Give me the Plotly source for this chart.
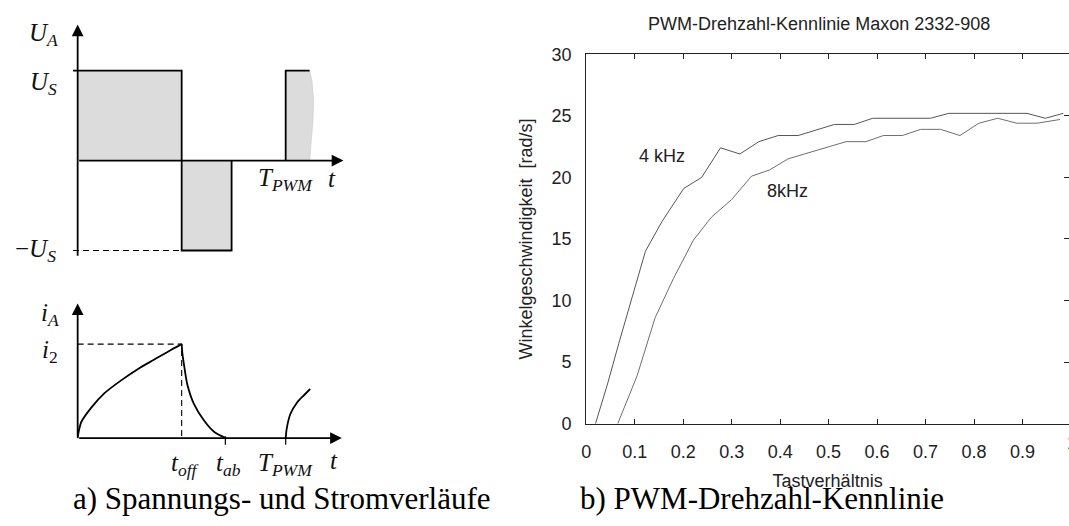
import plotly.graph_objects as go

# ---------------------------------------------------------------------------
# b) PWM speed characteristic: duty cycle -> angular velocity [rad/s]
# ---------------------------------------------------------------------------
duty_4khz = [0.019, 0.043, 0.067, 0.094, 0.122, 0.156, 0.201, 0.238, 0.277, 0.317,
             0.356, 0.396, 0.437, 0.512, 0.553, 0.591, 0.710, 0.748, 0.909, 0.947, 0.984]
speed_4khz = [0.0, 3.1, 6.5, 10.2, 14.0, 16.4, 19.1, 20.0, 22.4, 21.9,
              22.9, 23.4, 23.4, 24.3, 24.3, 24.8, 24.8, 25.2, 25.2, 24.8, 25.2]

duty_8khz = [0.065, 0.105, 0.142, 0.180, 0.221, 0.259, 0.300, 0.341, 0.378, 0.416,
             0.450, 0.536, 0.577, 0.613, 0.652, 0.690, 0.731, 0.771, 0.810, 0.849,
             0.888, 0.930, 0.977]
speed_8khz = [0.0, 3.9, 8.6, 11.8, 14.9, 16.8, 18.2, 20.1, 20.6, 21.5,
              21.9, 22.9, 22.9, 23.4, 23.4, 23.9, 23.9, 23.4, 24.4, 24.8,
              24.4, 24.4, 24.7]

x_ticks = [0, 0.1, 0.2, 0.3, 0.4, 0.5, 0.6, 0.7, 0.8, 0.9]
x_tick_text = ["0", "0.1", "0.2", "0.3", "0.4", "0.5", "0.6", "0.7", "0.8", "0.9"]
y_ticks = [0, 5, 10, 15, 20, 25, 30]

# ---------------------------------------------------------------------------
# a) schematic voltage / current waveforms (normalised units)
# ---------------------------------------------------------------------------
T_OFF = 1.0          # switch-off instant
T_AB = 1.42          # current has decayed to zero
T_NEG_END = 1.48     # end of the negative voltage pulse
T_PWM = 2.0          # PWM period
T_PULSE3_END = 2.23  # visible part of the next pulse
U_S = 1.0
I_2 = 1.0

# wavy right border of the next (cut-off) voltage pulse
pulse3_edge_t = [2.230, 2.252, 2.268, 2.261, 2.242, 2.230, 2.230]
pulse3_edge_u = [1.0, 0.89, 0.676, 0.426, 0.176, 0.051, 0.0]

# armature current: rise while switched on, decay after t_off, next rise at T_PWM
rise_t = [0.0, 0.01, 0.035, 0.131, 0.258, 0.418, 0.577, 0.737, 0.896, 1.0]
rise_i = [0.0, 0.07, 0.171, 0.324, 0.478, 0.614, 0.733, 0.836, 0.938, 1.0]
fall_t = [1.0, 1.006, 1.024, 1.056, 1.12, 1.215, 1.311, 1.423]
fall_i = [1.0, 0.91, 0.768, 0.563, 0.358, 0.187, 0.068, 0.0]
next_t = [2.0, 2.01, 2.045, 2.108, 2.17, 2.236]
next_i = [0.0, 0.1, 0.256, 0.376, 0.45, 0.522]

W, H = 1069, 526
GRAY_FILL = "#dcdcdc"
SERIF = "Liberation Serif, Times New Roman, serif"
SANS = "Liberation Sans, Arial, sans-serif"

fig = go.Figure()

# ---------------- voltage diagram (x2 / y2) ----------------
va = dict(xaxis="x2", yaxis="y2", hoverinfo="skip", showlegend=False)
fig.add_trace(go.Scatter(x=[0, 0, T_OFF, T_OFF, 0], y=[0, U_S, U_S, 0, 0], fill="toself",
                         fillcolor=GRAY_FILL, line=dict(width=0), mode="lines", **va))
fig.add_trace(go.Scatter(x=[T_OFF, T_OFF, T_NEG_END, T_NEG_END, T_OFF], y=[0, -U_S, -U_S, 0, 0],
                         fill="toself", fillcolor=GRAY_FILL, line=dict(width=0), mode="lines", **va))
fig.add_trace(go.Scatter(x=[T_PWM, T_PWM] + pulse3_edge_t + [T_PWM],
                         y=[0, U_S] + pulse3_edge_u + [0], fill="toself", fillcolor=GRAY_FILL,
                         line=dict(width=0.8, color="#cfcfcf"), mode="lines", **va))
fig.add_trace(go.Scatter(x=[-0.045, T_OFF, T_OFF, T_NEG_END, T_NEG_END],
                         y=[U_S, U_S, -U_S, -U_S, 0], mode="lines",
                         line=dict(color="black", width=1.8), **va))
fig.add_trace(go.Scatter(x=[T_PWM, T_PWM, T_PULSE3_END], y=[0, U_S, U_S], mode="lines",
                         line=dict(color="black", width=1.8), **va))
fig.add_trace(go.Scatter(x=[-0.045, T_OFF], y=[-U_S, -U_S], mode="lines",
                         line=dict(color="black", width=1.1, dash="6px,4px"), **va))

# ---------------- current diagram (x3 / y3) ----------------
ia = dict(xaxis="x3", yaxis="y3", hoverinfo="skip", showlegend=False)
fig.add_trace(go.Scatter(x=[0, T_OFF, T_OFF], y=[I_2, I_2, 0], mode="lines",
                         line=dict(color="black", width=1.1, dash="6px,4px"), **ia))
for tt, ii in ((rise_t, rise_i), (fall_t, fall_i), (next_t, next_i)):
    fig.add_trace(go.Scatter(x=tt, y=ii, mode="lines", line_shape="spline",
                             line=dict(color="black", width=1.8, smoothing=0.8), **ia))
for tm in (T_AB, T_PWM):
    fig.add_trace(go.Scatter(x=[tm, tm], y=[0.02, -0.07], mode="lines",
                             line=dict(color="black", width=1.2), **ia))

# ---------------- PWM speed characteristic (x / y) ----------------
fig.add_trace(go.Scatter(x=duty_4khz, y=speed_4khz, mode="lines", name="4 kHz",
                         line=dict(color="#555555", width=1), showlegend=False, hoverinfo="skip"))
fig.add_trace(go.Scatter(x=duty_8khz, y=speed_8khz, mode="lines", name="8kHz",
                         line=dict(color="#6e6e6e", width=1), showlegend=False, hoverinfo="skip"))
# carrier trace for the right-hand tick axis
fig.add_trace(go.Scatter(x=[None], y=[None], yaxis="y4", mode="lines",
                         showlegend=False, hoverinfo="skip"))

# ---------------- annotations ----------------
ann = []


def arrow(x, y, ax, ay, xr, yr):
    ann.append(dict(x=x, y=y, ax=ax, ay=ay, xref=xr, yref=yr, axref=xr, ayref=yr, text="",
                    showarrow=True, arrowhead=2, arrowsize=1.3, arrowwidth=1.8,
                    arrowcolor="black", standoff=0))


arrow(2.555, 0, 0, 0, "x2", "y2")
arrow(0, 1.513, 0, -1.075, "x2", "y2")
arrow(2.54, 0, 0, 0, "x3", "y3")
arrow(0, 1.433, 0, 0, "x3", "y3")


def label(text, x, y, xr, yr, size=25):
    ann.append(dict(x=x, y=y, xref=xr, yref=yr, text=text, showarrow=False,
                    xanchor="center", yanchor="middle",
                    font=dict(family=SERIF, size=size, color="#111")))


label("<i>U</i><sub><i>A</i></sub>", -0.33, 1.40, "x2", "y2")
label("<i>U</i><sub><i>S</i></sub>", -0.33, 0.86, "x2", "y2")
label("\u2212<i>U</i><sub><i>S</i></sub>", -0.41, -1.0, "x2", "y2")
label("<i>T</i><sub><i>PWM</i></sub>", T_PWM, -0.21, "x2", "y2")
label("<i>t</i>", 2.45, -0.20, "x2", "y2")

label("<i>i</i><sub><i>A</i></sub>", -0.27, 1.31, "x3", "y3")
label("<i>i</i><sub>2</sub>", -0.27, 0.92, "x3", "y3")
label("<i>t</i><sub><i>off</i></sub>", 1.03, -0.28, "x3", "y3")
label("<i>t</i><sub><i>ab</i></sub>", 1.45, -0.28, "x3", "y3")
label("<i>T</i><sub><i>PWM</i></sub>", T_PWM, -0.28, "x3", "y3")
label("<i>t</i>", 2.46, -0.24, "x3", "y3")

# curve labels in the speed chart
for txt, xv, yv in (("4 kHz", 0.156, 21.75), ("8kHz", 0.416, 18.9)):
    ann.append(dict(x=xv, y=yv, xref="x", yref="y", text=txt, showarrow=False,
                    xanchor="center", yanchor="middle",
                    font=dict(family=SANS, size=18, color="#222")))
# last tick label, sitting on the right border
ann.append(dict(x=1.0, xshift=3, y=1 - 450 / H, xref="paper", yref="paper",
                yanchor="middle", xanchor="center", text="1", showarrow=False,
                font=dict(family=SANS, size=18, color="#222")))

# sub-figure captions
for txt, cx in (("a) Spannungs- und Stromverläufe", 278.5), ("b) PWM-Drehzahl-Kennlinie", 761)):
    ann.append(dict(x=cx / W, y=1 - 508 / H, xref="paper", yref="paper", text=txt,
                    showarrow=False, xanchor="center", yanchor="middle",
                    font=dict(family=SERIF, size=31, color="black")))

hidden = dict(visible=False, showgrid=False, zeroline=False)
tick_font = dict(family=SANS, size=18, color="#222")

fig.update_layout(
    width=W, height=H, margin=dict(l=0, r=0, t=0, b=0),
    paper_bgcolor="white", plot_bgcolor="rgba(0,0,0,0)", showlegend=False,
    title=dict(text="PWM-Drehzahl-Kennlinie Maxon 2332-908", x=818 / W, y=1 - 14 / H,
               xref="paper", yref="paper", xanchor="center", yanchor="middle",
               font=dict(family=SANS, size=18, color="#222")),
    xaxis=dict(domain=[584 / W, 1], range=[0, (W - 584) / 487], tickvals=x_ticks,
               ticktext=x_tick_text, ticks="inside", ticklen=5, tickwidth=1.2,
               tickcolor="#222", showline=True, linecolor="#222", linewidth=1.3,
               mirror="ticks", showgrid=False, zeroline=False, tickfont=tick_font,
               ticklabelstandoff=12,
               title=dict(text="Tastverhältnis", standoff=12,
                          font=dict(family=SANS, size=18, color="#222"))),
    yaxis=dict(domain=[96 / H, 480 / H], range=[0, 30], tickvals=y_ticks, ticks="",
               showline=True, linecolor="#222", linewidth=1.3, showgrid=False,
               zeroline=False, tickfont=tick_font, ticklabelstandoff=10,
               title=dict(text="Winkelgeschwindigkeit  [rad/s]", standoff=14,
                          font=dict(family=SANS, size=18, color="#222"))),
    yaxis4=dict(overlaying="y", side="right", anchor="x", range=[0, 30], tickvals=y_ticks,
                ticks="inside", ticklen=5, tickwidth=1.2, tickcolor="#222",
                showticklabels=False, showline=False, showgrid=False, zeroline=False),
    xaxis2=dict(domain=[0, 360 / W], range=[-0.6986, 2.7464], anchor="y2", **hidden),
    yaxis2=dict(domain=[1 - 270 / H, 1], range=[-1.2139, 1.6738], anchor="x2", **hidden),
    xaxis3=dict(domain=[0, 360 / W], range=[-0.6986, 2.7464], anchor="y3", **hidden),
    yaxis3=dict(domain=[0, 1 - 280 / H], range=[-0.8291, 1.6888], anchor="x3", **hidden),
    annotations=ann,
)

# the page itself should add no spacing around the figure
fig.write_html("out.html", post_script="document.body.style.margin='0';")
